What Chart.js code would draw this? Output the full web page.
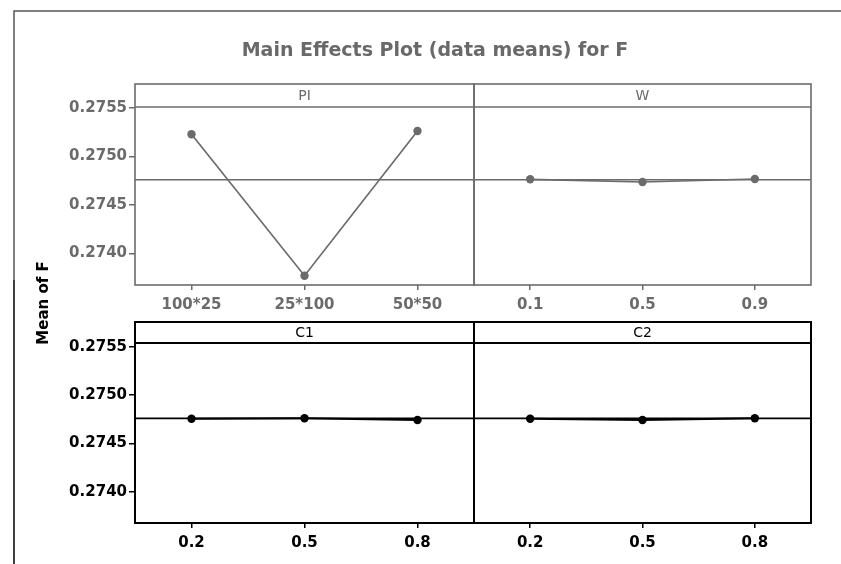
<!DOCTYPE html>
<html>
<head>
<meta charset="utf-8">
<title>Main Effects Plot (data means) for F</title>
<script src="https://cdn.jsdelivr.net/npm/chart.js@4.4.1/dist/chart.umd.min.js"></script>
<style>
  html, body { margin: 0; padding: 0; background: #ffffff; }
  #wrap { position: relative; width: 841px; height: 564px; overflow: hidden; background: #ffffff; }
  #wrap canvas { position: absolute; }
</style>
</head>
<body>
<div id="wrap">
  <canvas id="bg" width="841" height="564" style="left:0;top:0"></canvas>
  <canvas id="pPI"></canvas>
  <canvas id="pW"></canvas>
  <canvas id="pC1"></canvas>
  <canvas id="pC2"></canvas>
</div>
<script>
// Factor levels and the mean response at each level
const PI_LEVELS = ['100*25', '25*100', '50*50'];
const PI_MEANS  = [0.275229, 0.273769, 0.275263];

const W_LEVELS = ['0.1', '0.5', '0.9'];
const W_MEANS  = [0.274764, 0.274736, 0.274767];

const C1_LEVELS = ['0.2', '0.5', '0.8'];
const C1_MEANS  = [0.274755, 0.274759, 0.274742];

const C2_LEVELS = ['0.2', '0.5', '0.8'];
const C2_MEANS  = [0.274755, 0.274742, 0.274759];

// Overall mean of F, drawn as the reference line in every panel
const GRAND_MEAN = 0.274758;

// Shared y tick values
const Y_TICKS = [0.2740, 0.2745, 0.2750, 0.2755];

const CHART_TITLE = 'Main Effects Plot (data means) for F';
const Y_LABEL = 'Mean of F';

const TICK_FONT = { family: 'DejaVu Sans', size: 15, weight: 'bold' };
const STRIP_FONT = '14px "DejaVu Sans"';

// Draws the grand-mean line, then the panel box with its header strip
const facetPlugin = {
  id: 'facet',
  beforeDatasetsDraw(chart) {
    const o = chart.options.plugins.facet;
    const a = chart.chartArea;
    const y = chart.scales.y.getPixelForValue(GRAND_MEAN);
    const ctx = chart.ctx;
    ctx.save();
    ctx.strokeStyle = o.ink;
    ctx.lineWidth = o.refWidth;
    ctx.beginPath();
    ctx.moveTo(a.left, y);
    ctx.lineTo(a.right, y);
    ctx.stroke();
    ctx.restore();
  },
  afterDraw(chart) {
    const o = chart.options.plugins.facet;
    const a = chart.chartArea;
    const ctx = chart.ctx;
    ctx.save();
    ctx.strokeStyle = o.ink;
    ctx.lineWidth = o.boxWidth;
    ctx.strokeRect(a.left, a.top - o.stripHeight, a.right - a.left, a.bottom - a.top + o.stripHeight);
    ctx.beginPath();
    ctx.moveTo(a.left, a.top);
    ctx.lineTo(a.right, a.top);
    ctx.stroke();
    ctx.fillStyle = o.ink;
    ctx.font = STRIP_FONT;
    ctx.textAlign = 'center';
    ctx.textBaseline = 'middle';
    ctx.fillText(o.label, (a.left + a.right) / 2, a.top - o.stripHeight / 2 + 1);
    ctx.restore();
  }
};

// Builds one facet; the plot area is pinned to cfg.area (page pixels)
function makePanel(id, cfg) {
  const el = document.getElementById(id);
  el.width = cfg.width;
  el.height = cfg.height;
  el.style.left = cfg.left + 'px';
  el.style.top = cfg.top + 'px';
  const chart = new Chart(el, {
    type: 'line',
    data: {
      labels: cfg.levels,
      datasets: [{
        data: cfg.means,
        borderColor: cfg.ink,
        backgroundColor: cfg.ink,
        pointBackgroundColor: cfg.ink,
        pointBorderColor: cfg.ink,
        borderWidth: cfg.lineWidth,
        pointRadius: 4.2,
        pointBorderWidth: 0,
        tension: 0,
        clip: 6
      }]
    },
    options: {
      responsive: false,
      animation: false,
      events: [],
      layout: { padding: { top: 20, right: 0, left: 0, bottom: 0 } },
      plugins: {
        legend: { display: false },
        tooltip: { enabled: false },
        title: { display: false },
        facet: {
          ink: cfg.ink,
          label: cfg.label,
          stripHeight: cfg.stripHeight,
          boxWidth: cfg.boxWidth,
          refWidth: cfg.refWidth
        }
      },
      scales: {
        x: {
          type: 'category',
          offset: true,
          afterFit(s) { s.height = cfg.xHeight; },
          grid: { offset: false, drawOnChartArea: false, drawTicks: true, tickLength: 5, color: cfg.ink, lineWidth: 1.5 },
          border: { display: false },
          ticks: { color: cfg.ink, font: TICK_FONT, padding: cfg.xPad, maxRotation: 0, autoSkip: false }
        },
        y: {
          type: 'linear',
          display: cfg.showY,
          min: cfg.yMin,
          max: cfg.yMax,
          afterFit(s) { s.width = cfg.yWidth; },
          afterBuildTicks(s) { s.ticks = Y_TICKS.map(v => ({ value: v })); },
          grid: { drawOnChartArea: false, drawTicks: true, tickLength: 6, color: cfg.ink, lineWidth: 1.5 },
          border: { display: false },
          ticks: { color: cfg.ink, font: TICK_FONT, padding: 2, callback: v => Number(v).toFixed(4) }
        }
      }
    },
    plugins: [facetPlugin]
  });

  // nudge the layout padding until the plot area sits on its target box
  for (let i = 0; i < 3; i++) {
    const a = chart.chartArea;
    const p = Object.assign({}, chart.options.layout.padding);
    p.left += cfg.area.left - (cfg.left + a.left);
    p.right += (cfg.left + a.right) - cfg.area.right;
    p.top += cfg.area.top - (cfg.top + a.top);
    p.bottom += (cfg.top + a.bottom) - cfg.area.bottom;
    chart.options.layout.padding = p;
    chart.update();
  }
  return chart;
}

const TOP_INK = '#6b6b6b';
const BOTTOM_INK = '#000000';

const COL_LEFT = { left: 20, width: 464, showY: true, yWidth: 115, areaL: 135, areaR: 474 };
const COL_RIGHT = { left: 464, width: 377, showY: false, yWidth: 0, areaL: 474, areaR: 811 };
const ROW_TOP = { top: 64, height: 256, xHeight: 35, xPad: 6, stripHeight: 23, areaT: 107, areaB: 285,
                  yMin: 0.273673, yMax: 0.275510, ink: TOP_INK, lineWidth: 1.7, boxWidth: 1.6, refWidth: 1.5 };
const ROW_BOTTOM = { top: 312, height: 252, xHeight: 41, xPad: 6, stripHeight: 21, areaT: 343, areaB: 523,
                     yMin: 0.273676, yMax: 0.275538, ink: BOTTOM_INK, lineWidth: 2, boxWidth: 2, refWidth: 1.7 };

function panelConfig(row, col, extra) {
  return Object.assign({}, row, col, extra, {
    area: { left: col.areaL, right: col.areaR, top: row.areaT, bottom: row.areaB }
  });
}

makePanel('pPI', panelConfig(ROW_TOP, COL_LEFT, { levels: PI_LEVELS, means: PI_MEANS, label: 'PI' }));
makePanel('pW',  panelConfig(ROW_TOP, COL_RIGHT, { levels: W_LEVELS, means: W_MEANS, label: 'W' }));
makePanel('pC1', panelConfig(ROW_BOTTOM, COL_LEFT, { levels: C1_LEVELS, means: C1_MEANS, label: 'C1' }));
makePanel('pC2', panelConfig(ROW_BOTTOM, COL_RIGHT, { levels: C2_LEVELS, means: C2_MEANS, label: 'C2' }));

// Outer frame and the shared y-axis label
const framePlugin = {
  id: 'frame',
  afterDraw(chart) {
    const ctx = chart.ctx;
    ctx.save();
    ctx.lineWidth = 1.5;
    ctx.strokeStyle = '#555555';
    ctx.beginPath();
    ctx.moveTo(841, 11);
    ctx.lineTo(14, 11);
    ctx.lineTo(14, 280);
    ctx.stroke();
    ctx.strokeStyle = '#000000';
    ctx.beginPath();
    ctx.moveTo(14, 280);
    ctx.lineTo(14, 564);
    ctx.stroke();
    ctx.fillStyle = '#000000';
    ctx.font = 'bold 15px "DejaVu Sans"';
    ctx.textAlign = 'center';
    ctx.textBaseline = 'middle';
    ctx.translate(44, 303);
    ctx.rotate(-Math.PI / 2);
    ctx.fillText(Y_LABEL, 0, 0);
    ctx.restore();
  }
};

new Chart(document.getElementById('bg'), {
  type: 'line',
  data: { labels: [], datasets: [] },
  options: {
    responsive: false,
    animation: false,
    events: [],
    layout: { padding: { top: 29, left: 29, right: 0 } },
    scales: { x: { display: false }, y: { display: false } },
    plugins: {
      legend: { display: false },
      tooltip: { enabled: false },
      title: {
        display: true,
        text: CHART_TITLE,
        color: '#696969',
        font: { family: 'DejaVu Sans', size: 19, weight: 'bold' },
        padding: { top: 11, bottom: 0 }
      }
    }
  },
  plugins: [framePlugin]
});
</script>
</body>
</html>
